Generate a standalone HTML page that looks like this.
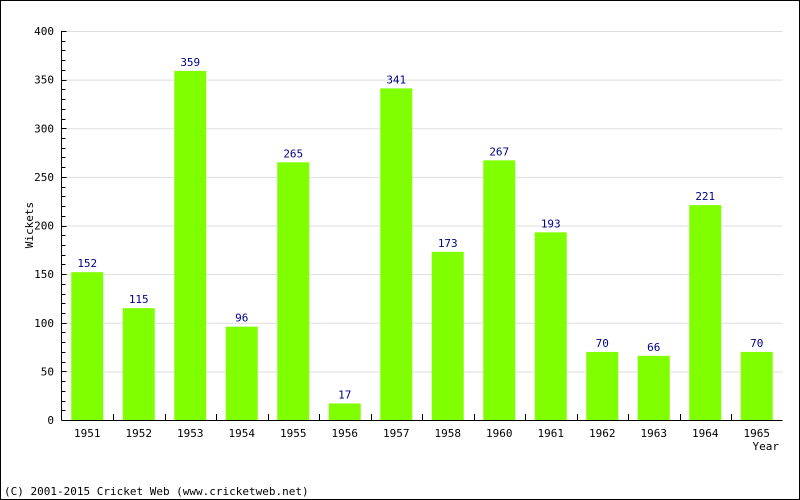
<!DOCTYPE html>
<html><head><meta charset="utf-8"><style>
body{margin:0;background:#fff}
svg{display:block;font-family:"DejaVu Sans Mono","Liberation Mono",monospace}
</style></head><body>
<svg id="c" width="800" height="500">
<rect x="0.5" y="0.5" width="799" height="499" fill="#fff" stroke="#000"/>
<g id="grid"></g><g id="bars"></g><g id="axes"></g>
<text x="33" y="225" font-size="11" text-anchor="middle" transform="rotate(-90 33 225)">Wickets</text>
<text x="779" y="450" font-size="11" text-anchor="end">Year</text>
<text x="4" y="495" font-size="11">(C) 2001-2015 Cricket Web (www.cricketweb.net)</text>
</svg>
<script>
const categories=["1951","1952","1953","1954","1955","1956","1957","1958","1960","1961","1962","1963","1964","1965"];
const wickets=[152,115,359,96,265,17,341,173,267,193,70,66,221,70];
const yTicks=[0,50,100,150,200,250,300,350,400];
const NS="http://www.w3.org/2000/svg";
const X0=61.5,X1=782.5,Y0=420,Y1=31,YMAX=400;
const bw=(X1-X0)/categories.length;
const y=v=>Y0-(v/YMAX)*(Y0-Y1);
const xc=i=>X0+bw*(i+0.5);
function mk(p,t,a){const e=document.createElementNS(NS,t);for(const k in a)e.setAttribute(k,a[k]);p.appendChild(e);return e;}
const grid=document.getElementById('grid'),bars=document.getElementById('bars'),axes=document.getElementById('axes');
yTicks.forEach(v=>{
 if(v>0){const g=mk(grid,'line',{x1:X0,x2:X1,y1:y(v)+0.5,y2:y(v)+0.5,stroke:'#ddd'});
 
 }
 const t=mk(axes,'text',{x:54,y:y(v)+4,'font-size':11,'text-anchor':'end'});t.textContent=v;
 
 
});
for(let v=0;v<=YMAX;v+=10){const tk=mk(axes,'line',{x1:X0,x2:X0+(v%50==0?5:4),y1:Math.round(y(v))+0.5,y2:Math.round(y(v))+0.5,stroke:'#000'});
 
 }
categories.forEach((c,i)=>{
 const v=wickets[i];
 const r=mk(bars,'rect',{x:xc(i)-16,y:y(v),width:32,height:Y0-y(v),fill:'#80ff00'});
 
 
 const l=mk(bars,'text',{x:xc(i),y:y(v)-5,'font-size':11,'text-anchor':'middle',fill:'#00008b'});l.textContent=v;
 
 
 const t=mk(axes,'text',{x:xc(i),y:437,'font-size':11,'text-anchor':'middle'});t.textContent=c;
 
 
 if(i>0){const tk=mk(axes,'line',{x1:Math.round(X0+bw*i)+0.5,x2:Math.round(X0+bw*i)+0.5,y1:Y0,y2:Y0-6,stroke:'#000'});
 
 }
});
const ya=mk(axes,'line',{x1:X0,x2:X0,y1:Y1,y2:Y0+0.5,stroke:'#000'});


const xa=mk(axes,'line',{x1:X0,x2:X1,y1:Y0+0.5,y2:Y0+0.5,stroke:'#000'});


</script>
</body></html>
